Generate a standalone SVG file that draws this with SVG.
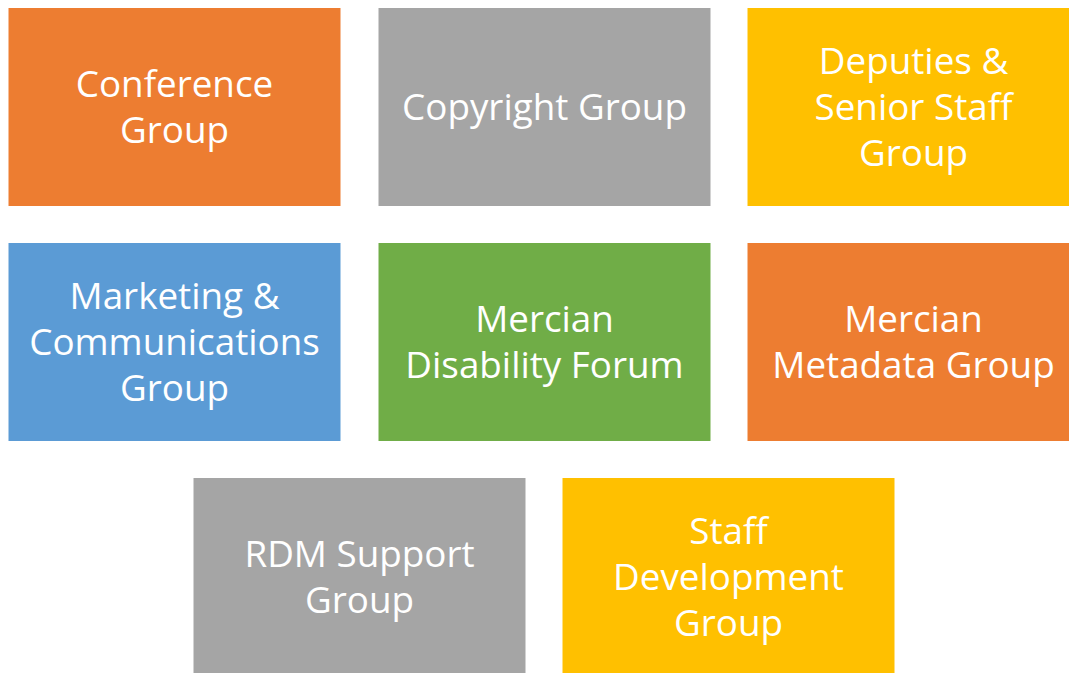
<svg xmlns="http://www.w3.org/2000/svg" width="1069" height="673" viewBox="0 0 1069 673">
<style>
.box{stroke:#ffffff;stroke-width:1}
.orange{fill:#ED7D31}
.gray{fill:#A5A5A5}
.gold{fill:#FFC000}
.blue{fill:#5B9BD5}
.green{fill:#70AD47}
text{font-family:"Open Sans","Noto Sans","Liberation Sans",sans-serif;font-size:36.8px;fill:#ffffff;text-anchor:middle}
</style>
<rect width="1069" height="673" fill="#ffffff"/>
<g id="conference">
<rect class="box orange" x="8" y="7.5" width="333" height="199"/>
<text x="174.5" y="96.5">Conference</text>
<text x="174.5" y="142.5">Group</text>
</g>
<g id="copyright">
<rect class="box gray" x="378" y="7.5" width="333" height="199"/>
<text x="544.5" y="119.5">Copyright Group</text>
</g>
<g id="deputies">
<rect class="box gold" x="747" y="7.5" width="333" height="199"/>
<text x="913.5" y="73.5">Deputies &amp;</text>
<text x="913.5" y="119.5">Senior Staff</text>
<text x="913.5" y="165.5">Group</text>
</g>
<g id="marketing">
<rect class="box blue" x="8" y="242.5" width="333" height="199"/>
<text x="174.5" y="308.5">Marketing &amp;</text>
<text x="174.5" y="354.5">Communications</text>
<text x="174.5" y="400.5">Group</text>
</g>
<g id="disability">
<rect class="box green" x="378" y="242.5" width="333" height="199"/>
<text x="544.5" y="331.5">Mercian</text>
<text x="544.5" y="377.5">Disability Forum</text>
</g>
<g id="metadata">
<rect class="box orange" x="747" y="242.5" width="333" height="199"/>
<text x="913.5" y="331.5">Mercian</text>
<text x="913.5" y="377.5">Metadata Group</text>
</g>
<g id="rdm">
<rect class="box gray" x="193" y="477.5" width="333" height="199"/>
<text x="359.5" y="566.5">RDM Support</text>
<text x="359.5" y="612.5">Group</text>
</g>
<g id="staffdev">
<rect class="box gold" x="562" y="477.5" width="333" height="199"/>
<text x="728.5" y="543.5">Staff</text>
<text x="728.5" y="589.5">Development</text>
<text x="728.5" y="635.5">Group</text>
</g>
<g id="connectors"></g>
</svg>
